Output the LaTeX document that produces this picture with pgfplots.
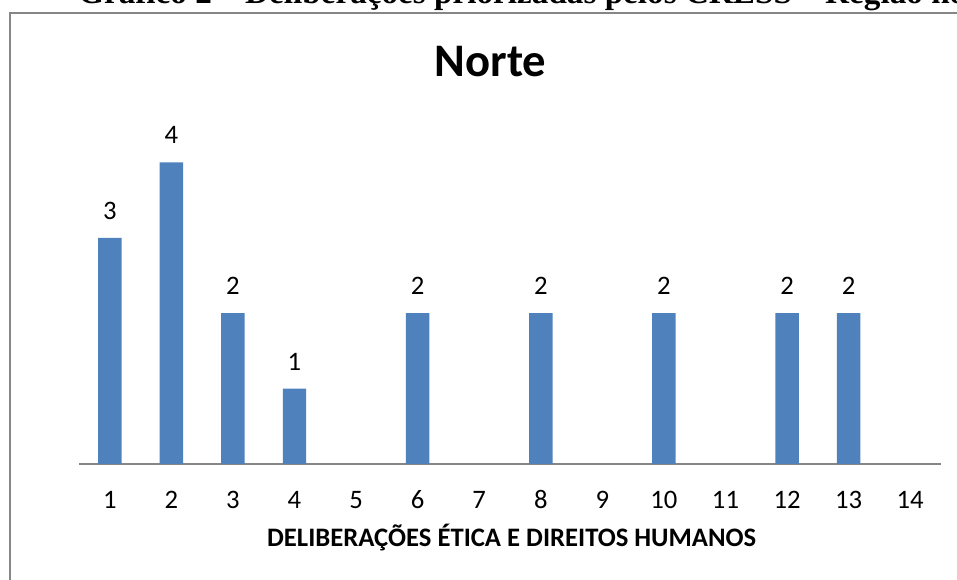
\documentclass[border=0pt]{standalone}
\usepackage{pgfplots}
\pgfplotsset{compat=1.18}
\usepackage{fontspec}
\setmainfont{Carlito}
\newfontfamily\headfont{Liberation Serif}
\definecolor{barblue}{HTML}{4F81BD}
\definecolor{framegray}{RGB}{134,134,134}
\begin{document}
\begin{tikzpicture}
% page = 957 x 580 px, 1 px = 0.75pt
\useasboundingbox (0,0) rectangle (717.75pt,435pt);
\clip (0,0) rectangle (717.75pt,435pt);

% heading of the page, cut by the top edge
\node[anchor=base west, inner sep=0pt, font=\headfont\bfseries\fontsize{24.9}{28}\selectfont]
  at (58.5pt,432.3pt) {Gráfico 2 – Deliberações priorizadas pelos CRESS – Região norte};

% chart frame
\draw[framegray, line width=1.2pt] (7.35pt,-10pt) -- (7.35pt,425.1pt) -- (730pt,425.1pt);

\begin{axis}[
  at={(59.25pt,87pt)}, anchor=south west,
  scale only axis, width=646.5pt, height=282.75pt,
  xmin=0.5, xmax=14.5, ymin=0, ymax=5,
  enlargelimits=false,
  ybar, bar width=17.6pt,
  axis y line=none,
  axis x line*=bottom,
  x axis line style={framegray, line width=1.1pt},
  xtick={1,2,...,14}, ytick=\empty,
  major tick length=0pt,
  /pgf/number format/assume math mode=true,
  xticklabel style={font=\fontsize{20}{22}\selectfont, anchor=base, yshift=-33.7pt},
  nodes near coords,
  every node near coord/.append style={font=\fontsize{20}{22}\selectfont, anchor=base, yshift=13.9pt},
  title={\bfseries Norte},
  title style={font=\fontsize{35}{40}\selectfont, at={(rel axis cs:0.4774,1.045)}, anchor=center, inner sep=0pt},
  xlabel={\bfseries DELIBERAÇÕES ÉTICA E DIREITOS HUMANOS},
  xlabel style={font=\fontsize{20}{24}\selectfont, at={(rel axis cs:0.502,-0.196)}, anchor=center},
  ylabel={\bfseries NÚMERO DE CRESS},
  ylabel style={font=\fontsize{20}{24}\selectfont, at={(rel axis cs:-0.0170,0.447)}, anchor=center, rotate=0},
]
\addplot[fill=barblue, draw=none] coordinates {
  (1,3) (2,4) (3,2) (4,1) (6,2) (8,2) (10,2) (12,2) (13,2)
};
\end{axis}
\end{tikzpicture}
\end{document}
